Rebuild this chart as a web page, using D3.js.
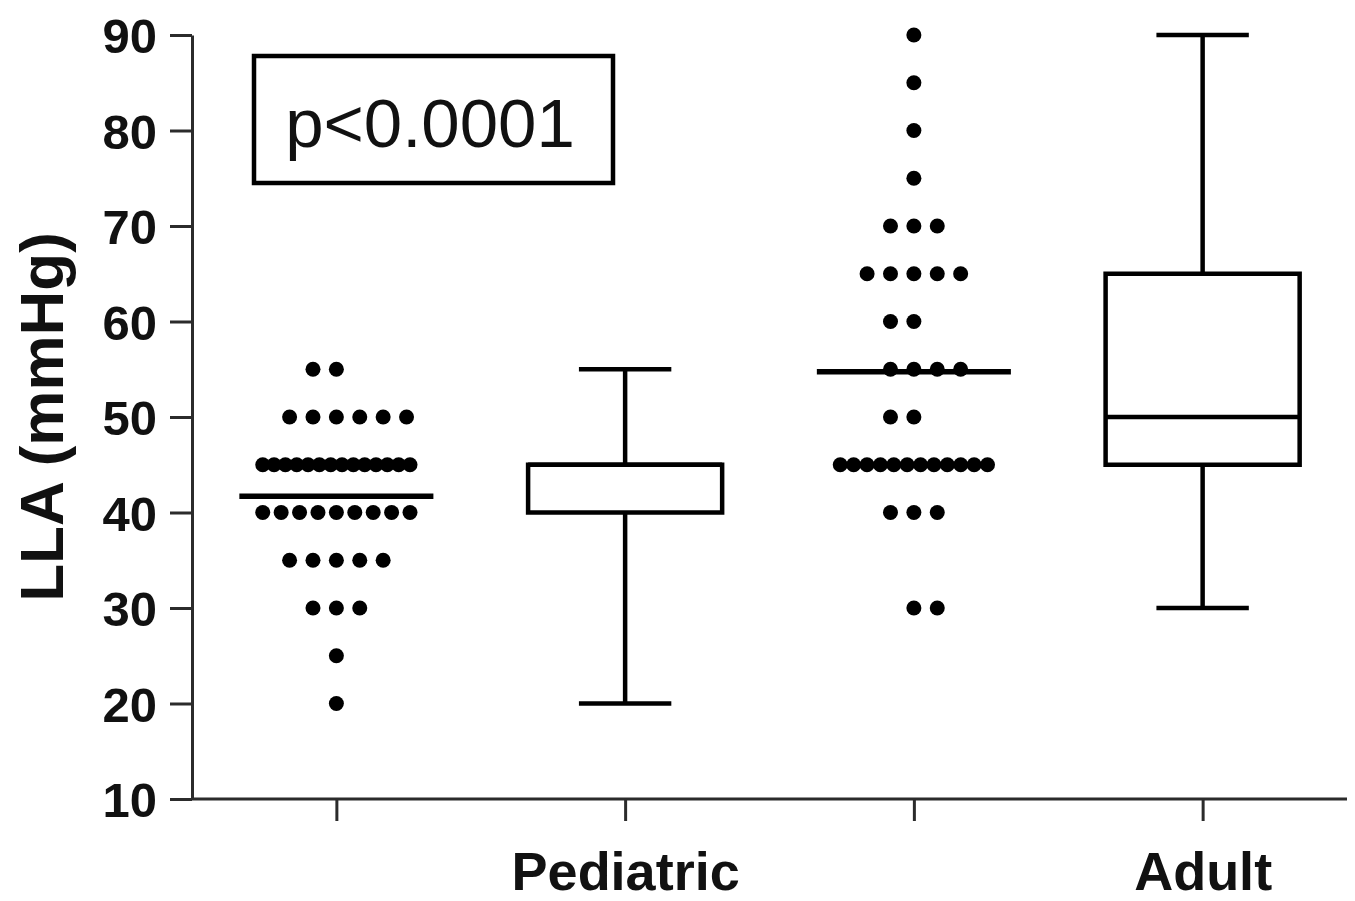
<!DOCTYPE html>
<html>
<head>
<meta charset="utf-8">
<script src="https://cdn.jsdelivr.net/npm/d3@7"></script>
<style>
  html, body { margin: 0; padding: 0; background: #fff; }
  svg { display: block; font-family: "Liberation Sans", Arial, sans-serif; }
</style>
</head>
<body>
<svg id="chart" width="1355" height="901"></svg>
<script>
// ---- data ----
const groupKeys   = ["pedDots", "pedBox", "adultDots", "adultBox"];
const groupLabels = ["", "Pediatric", "", "Adult"];
const yTicks = [10, 20, 30, 40, 50, 60, 70, 80, 90];
const yLabel = "LLA (mmHg)";
const pLabel = "p<0.0001";

const pediatricLLA = [
  55, 55,
  50, 50, 50, 50, 50, 50,
  45, 45, 45, 45, 45, 45, 45, 45, 45, 45, 45, 45, 45, 45,
  40, 40, 40, 40, 40, 40, 40, 40, 40,
  35, 35, 35, 35, 35,
  30, 30, 30,
  25,
  20
];
const adultLLA = [
  90, 85, 80, 75,
  70, 70, 70,
  65, 65, 65, 65, 65,
  60, 60,
  55, 55, 55, 55,
  50, 50,
  45, 45, 45, 45, 45, 45, 45, 45, 45, 45, 45, 45,
  40, 40, 40,
  30, 30
];

// ---- layout ----
const svg = d3.select("#chart");
const x = d3.scalePoint().domain(groupKeys).range([192, 1347]).padding(0.5);
const y = d3.scaleLinear().domain([10, 90]).range([799, 35]);
const step = x.step();

const axisColor = "#2b2b2b";

// Y axis
const yAxis = svg.append("g")
  .attr("transform", "translate(192,0)")
  .call(d3.axisLeft(y).tickValues(yTicks).tickSize(22).tickSizeOuter(0).tickPadding(13));
yAxis.selectAll("path, line").attr("stroke", axisColor).attr("stroke-width", 3);
yAxis.selectAll("text")
  .attr("fill", "#111").attr("font-size", 49).attr("font-weight", "bold")
  .attr("font-family", "'Liberation Sans', Arial, sans-serif").attr("dy", "0.36em");

// X axis
const labelMap = new Map(groupKeys.map((k, i) => [k, groupLabels[i]]));
const xAxis = svg.append("g")
  .attr("transform", "translate(0,799)")
  .call(d3.axisBottom(x).tickSize(22).tickSizeOuter(0).tickFormat(k => labelMap.get(k)));
xAxis.selectAll("path, line").attr("stroke", axisColor).attr("stroke-width", 3);
xAxis.select(".domain").attr("d", "M192,0H1347");
xAxis.selectAll("text")
  .attr("fill", "#111").attr("font-size", 54).attr("font-weight", "bold")
  .attr("font-family", "'Liberation Sans', Arial, sans-serif")
  .attr("y", 91).attr("dy", 0);

// Y label
svg.append("text")
  .attr("transform", `translate(63,${(y(90) + y(10)) / 2})`+" rotate(-90)")
  .attr("text-anchor", "middle")
  .attr("font-size", 62).attr("font-weight", "bold").attr("fill", "#111")
  .text(yLabel);

// ---- scatter dot columns with mean line ----
function dotPositions(values, cx) {
  const rows = Array.from(d3.group(values, v => v)).sort((a, b) => b[0] - a[0]);
  const base = step * 0.081;
  const maxSpan = step * 0.51;
  const pts = [];
  let evenCount = 0;
  for (const [v, arr] of rows) {
    const n = arr.length;
    if (n <= 7) {
      let dir = 1;
      if (n % 2 === 0) { dir = evenCount % 2 === 0 ? -1 : 1; evenCount++; }
      for (let i = 0; i < n; i++) {
        const k = i === 0 ? 0 : (i % 2 === 1 ? (i + 1) / 2 : -i / 2);
        pts.push({ x: cx + dir * k * base, y: y(v) });
      }
    } else {
      const s = maxSpan / (n - 1);
      for (let i = 0; i < n; i++) {
        pts.push({ x: cx - maxSpan / 2 + i * s, y: y(v) });
      }
    }
  }
  return pts;
}

function drawDots(values, key) {
  const cx = x(key);
  const g = svg.append("g");
  g.selectAll("circle").data(dotPositions(values, cx)).join("circle")
    .attr("cx", d => d.x).attr("cy", d => d.y).attr("r", 7.5).attr("fill", "#000");
  const m = d3.mean(values);
  g.append("line")
    .attr("x1", cx - step * 0.336).attr("x2", cx + step * 0.336)
    .attr("y1", y(m)).attr("y2", y(m))
    .attr("stroke", "#000").attr("stroke-width", 5.5);
}

// ---- box plots ----
function drawBox(values, key) {
  const cx = x(key);
  const s = values.slice().sort(d3.ascending);
  const q1 = d3.quantileSorted(s, 0.25), med = d3.quantileSorted(s, 0.5), q3 = d3.quantileSorted(s, 0.75);
  const lo = s[0], hi = s[s.length - 1];
  const hw = step * 0.336, cw = step * 0.16;
  const g = svg.append("g").attr("stroke", "#000").attr("stroke-width", 4.5).attr("fill", "none");
  g.append("line").attr("x1", cx).attr("x2", cx).attr("y1", y(hi)).attr("y2", y(q3));
  g.append("line").attr("x1", cx).attr("x2", cx).attr("y1", y(q1)).attr("y2", y(lo));
  g.append("line").attr("x1", cx - cw).attr("x2", cx + cw).attr("y1", y(hi)).attr("y2", y(hi));
  g.append("line").attr("x1", cx - cw).attr("x2", cx + cw).attr("y1", y(lo)).attr("y2", y(lo));
  g.append("rect").attr("x", cx - hw).attr("width", 2 * hw)
    .attr("y", y(q3)).attr("height", y(q1) - y(q3)).attr("fill", "#fff");
  g.append("line").attr("x1", cx - hw).attr("x2", cx + hw).attr("y1", y(med)).attr("y2", y(med));
}

drawDots(pediatricLLA, "pedDots");
drawBox(pediatricLLA, "pedBox");
drawDots(adultLLA, "adultDots");
drawBox(adultLLA, "adultBox");

// ---- p-value box ----
const pg = svg.append("g");
pg.append("rect").attr("x", 254).attr("y", 56).attr("width", 359).attr("height", 127)
  .attr("fill", "#fff").attr("stroke", "#000").attr("stroke-width", 4.5);
pg.append("text").attr("x", 430).attr("y", 147).attr("text-anchor", "middle")
  .attr("font-size", 69).attr("fill", "#111").text(pLabel);
</script>
</body>
</html>
